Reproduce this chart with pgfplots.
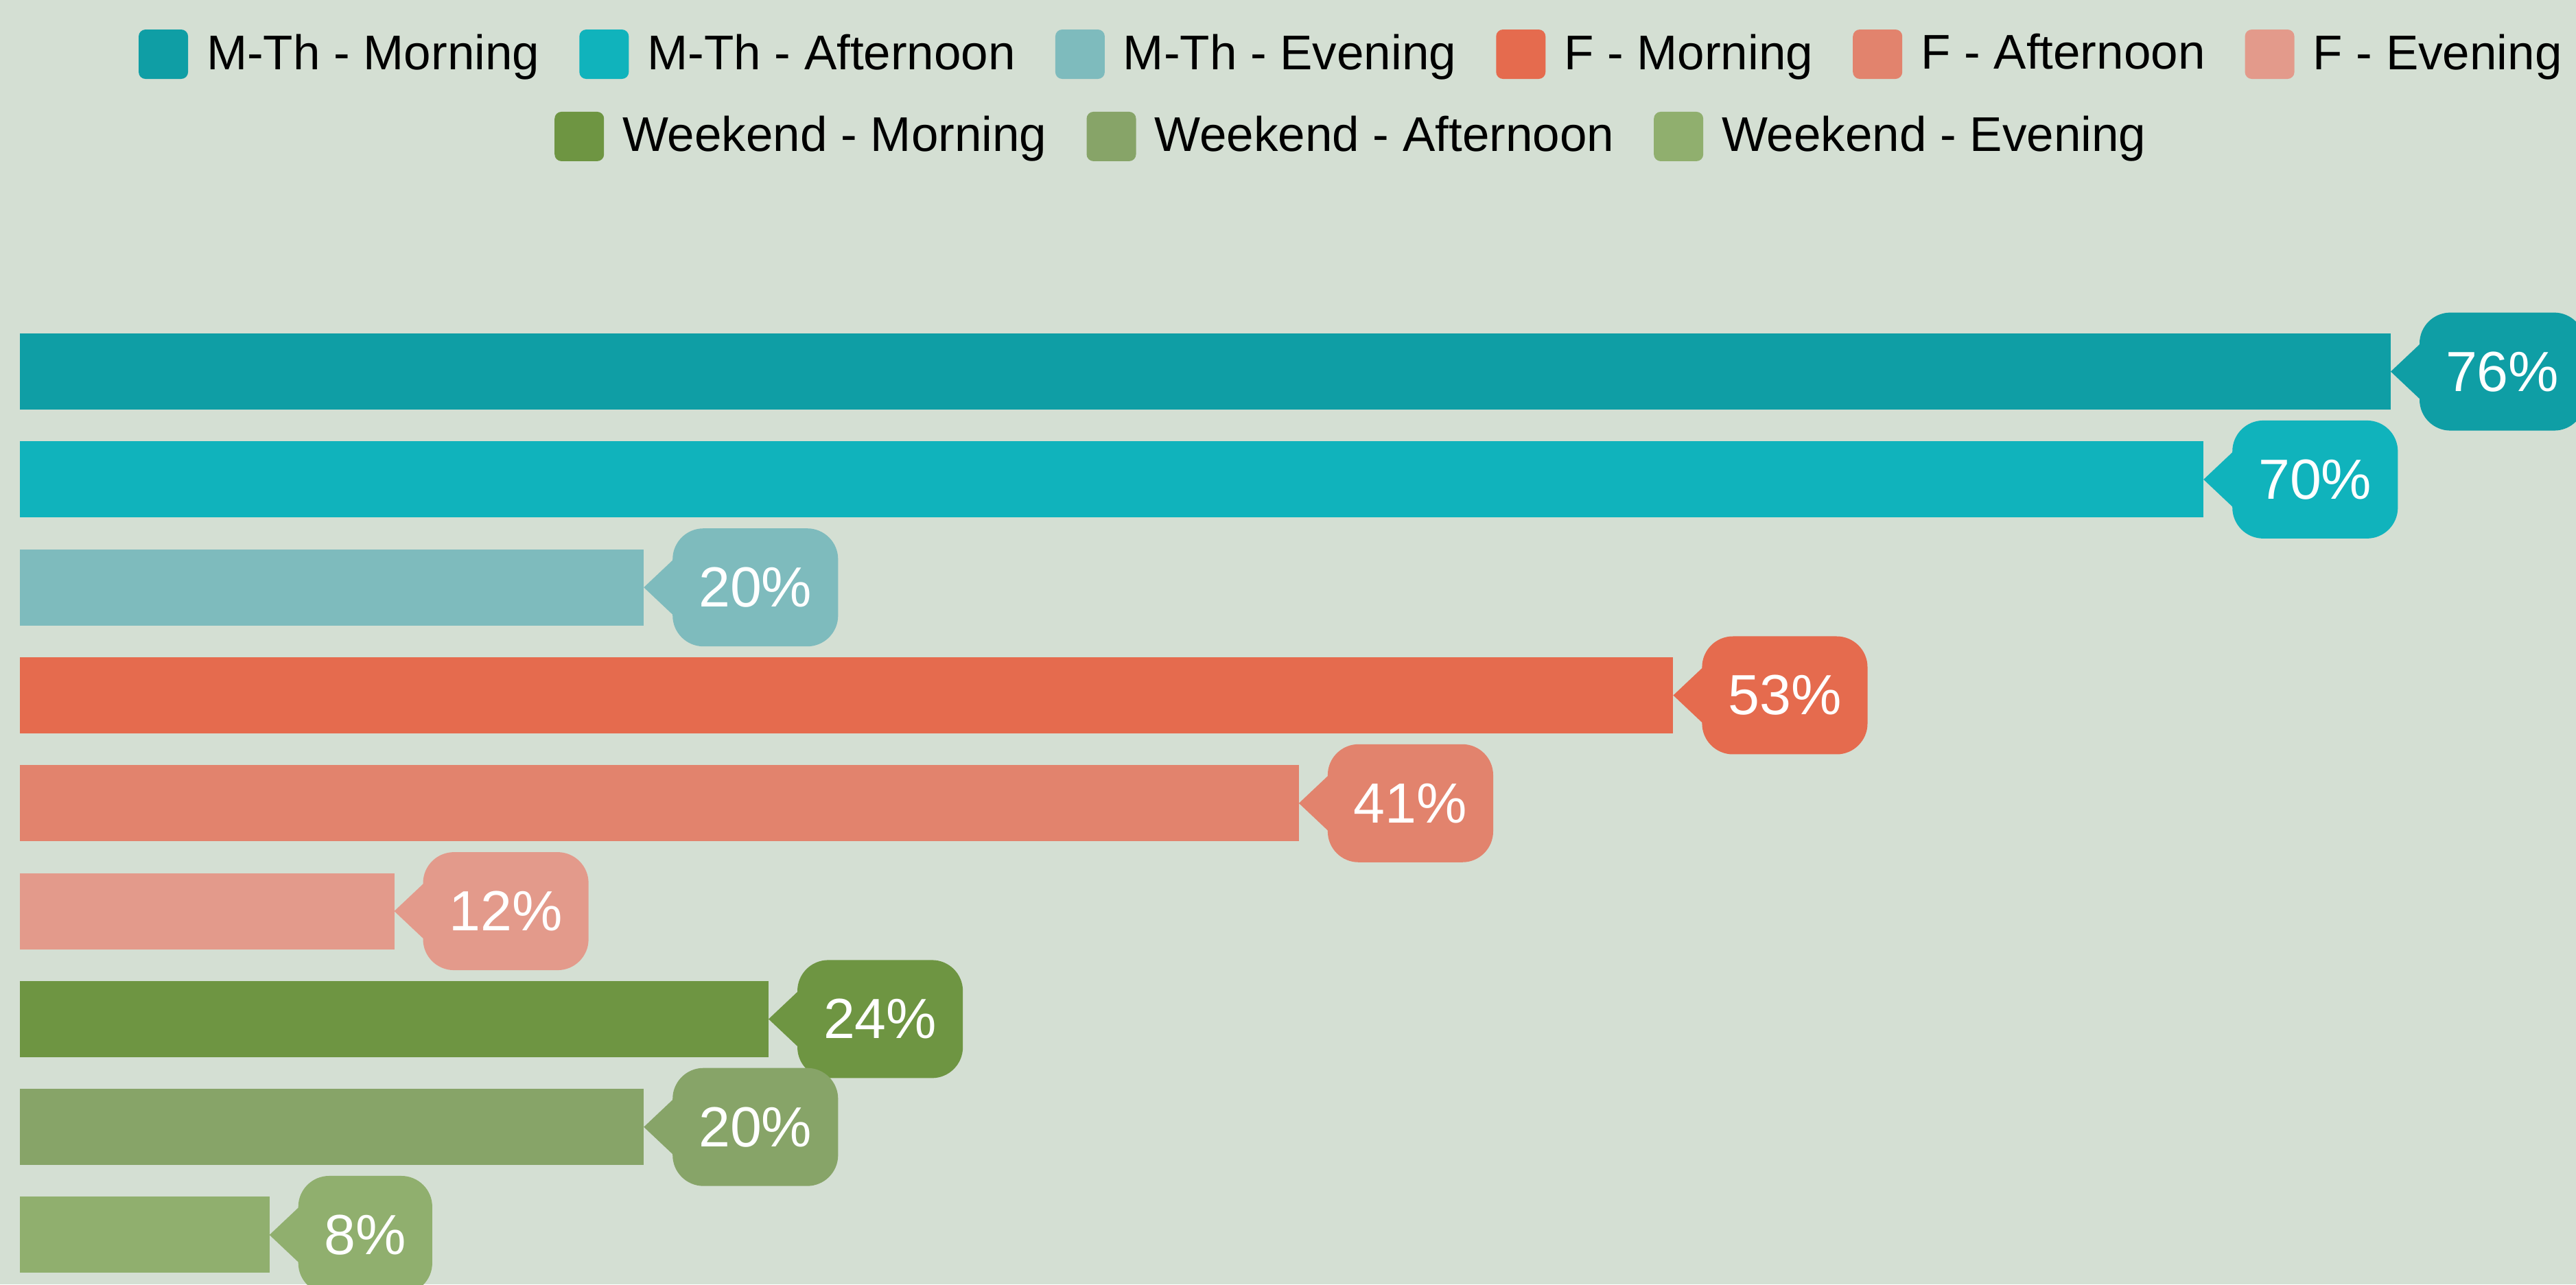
\documentclass[border=0pt]{standalone}
\usepackage{fontspec}
\setmainfont{Liberation Sans}
\usepackage{pgfplots}
\pgfplotsset{compat=1.18}
\definecolor{bg}{HTML}{D4DFD3}
\definecolor{c1}{HTML}{0F9EA5}
\definecolor{c2}{HTML}{10B3BC}
\definecolor{c3}{HTML}{7EBBBD}
\definecolor{c4}{HTML}{E56B4E}
\definecolor{c5}{HTML}{E2836D}
\definecolor{c6}{HTML}{E39A8B}
\definecolor{c7}{HTML}{6E9542}
\definecolor{c8}{HTML}{87A468}
\definecolor{c9}{HTML}{90AF6E}
\pgfplotsset{
  co/.style={fill=#1, draw=none,
    every node near coord/.append style={fill=#1,
      append after command={\pgfextra{\fill[#1, sharp corners] (\tikzlastnode.west) ++(0.6pt,8.3pt) -- ++(-8.8pt,-8.3pt) -- ++(8.8pt,-8.3pt) -- cycle;}}}},
  sqleg/.style={
    legend image code/.code={\fill[rounded corners=2pt] (0pt,-7.2pt) rectangle (14.4pt,7.2pt);},
    legend style={draw=none, fill=none, inner sep=0pt, outer sep=0pt,
      font=\fontsize{14.2}{17}\selectfont,
      nodes={inner sep=0pt, outer sep=0pt},
      /tikz/every odd column/.append style={column sep=5.4pt},
      /tikz/every even column/.append style={column sep=11.6pt}}}
}
\begin{document}
\begin{tikzpicture}
\begin{axis}[name=ax,
  scale only axis, width=750.8pt, height=374.4pt,
  xmin=-0.638, xmax=81.94, ymin=-3.443, ymax=8.458, y dir=reverse,
  axis background/.style={fill=bg},
  axis line style={draw=none}, xtick=\empty, ytick=\empty,
  xbar, bar shift=0pt, bar width=0.7056,
  point meta=x,
  /pgf/number format/assume math mode=true,
  nodes near coords={\pgfmathprintnumber{\pgfplotspointmeta}\%},
  every node near coord/.append style={anchor=west, xshift=8.2pt,
    rounded corners=9pt, inner xsep=7.6pt, inner ysep=0pt,
    minimum height=34.4pt, text=white, font=\fontsize{16.5}{19}\selectfont},
  sqleg,
  legend columns=6,
  legend style={at={(0.5242,0.9578)}, anchor=center},
  clip=false,
]
\addplot[co=c1] coordinates {(76,0)};
\addplot[co=c2] coordinates {(70,1)};
\addplot[co=c3] coordinates {(20,2)};
\addplot[co=c4] coordinates {(53,3)};
\addplot[co=c5] coordinates {(41,4)};
\addplot[co=c6] coordinates {(12,5)};
\addplot[co=c7] coordinates {(24,6)};
\addplot[co=c8] coordinates {(20,7)};
\addplot[co=c9] coordinates {(8,8)};
\legend{M-Th - Morning, M-Th - Afternoon, M-Th - Evening, F - Morning, F - Afternoon, F - Evening}
\end{axis}
\begin{axis}[
  scale only axis, width=750.8pt, height=374.4pt,
  xmin=0, xmax=1, ymin=0, ymax=1, hide axis,
  sqleg, legend columns=3,
  legend style={at={(0.5242,0.8937)}, anchor=center},
]
\addlegendimage{fill=c7, draw=none}
\addlegendimage{fill=c8, draw=none}
\addlegendimage{fill=c9, draw=none}
\legend{Weekend - Morning, Weekend - Afternoon, Weekend - Evening}
\end{axis}
\pgfresetboundingbox
\path[use as bounding box] (ax.south west) rectangle (ax.north east);
\end{tikzpicture}
\end{document}
